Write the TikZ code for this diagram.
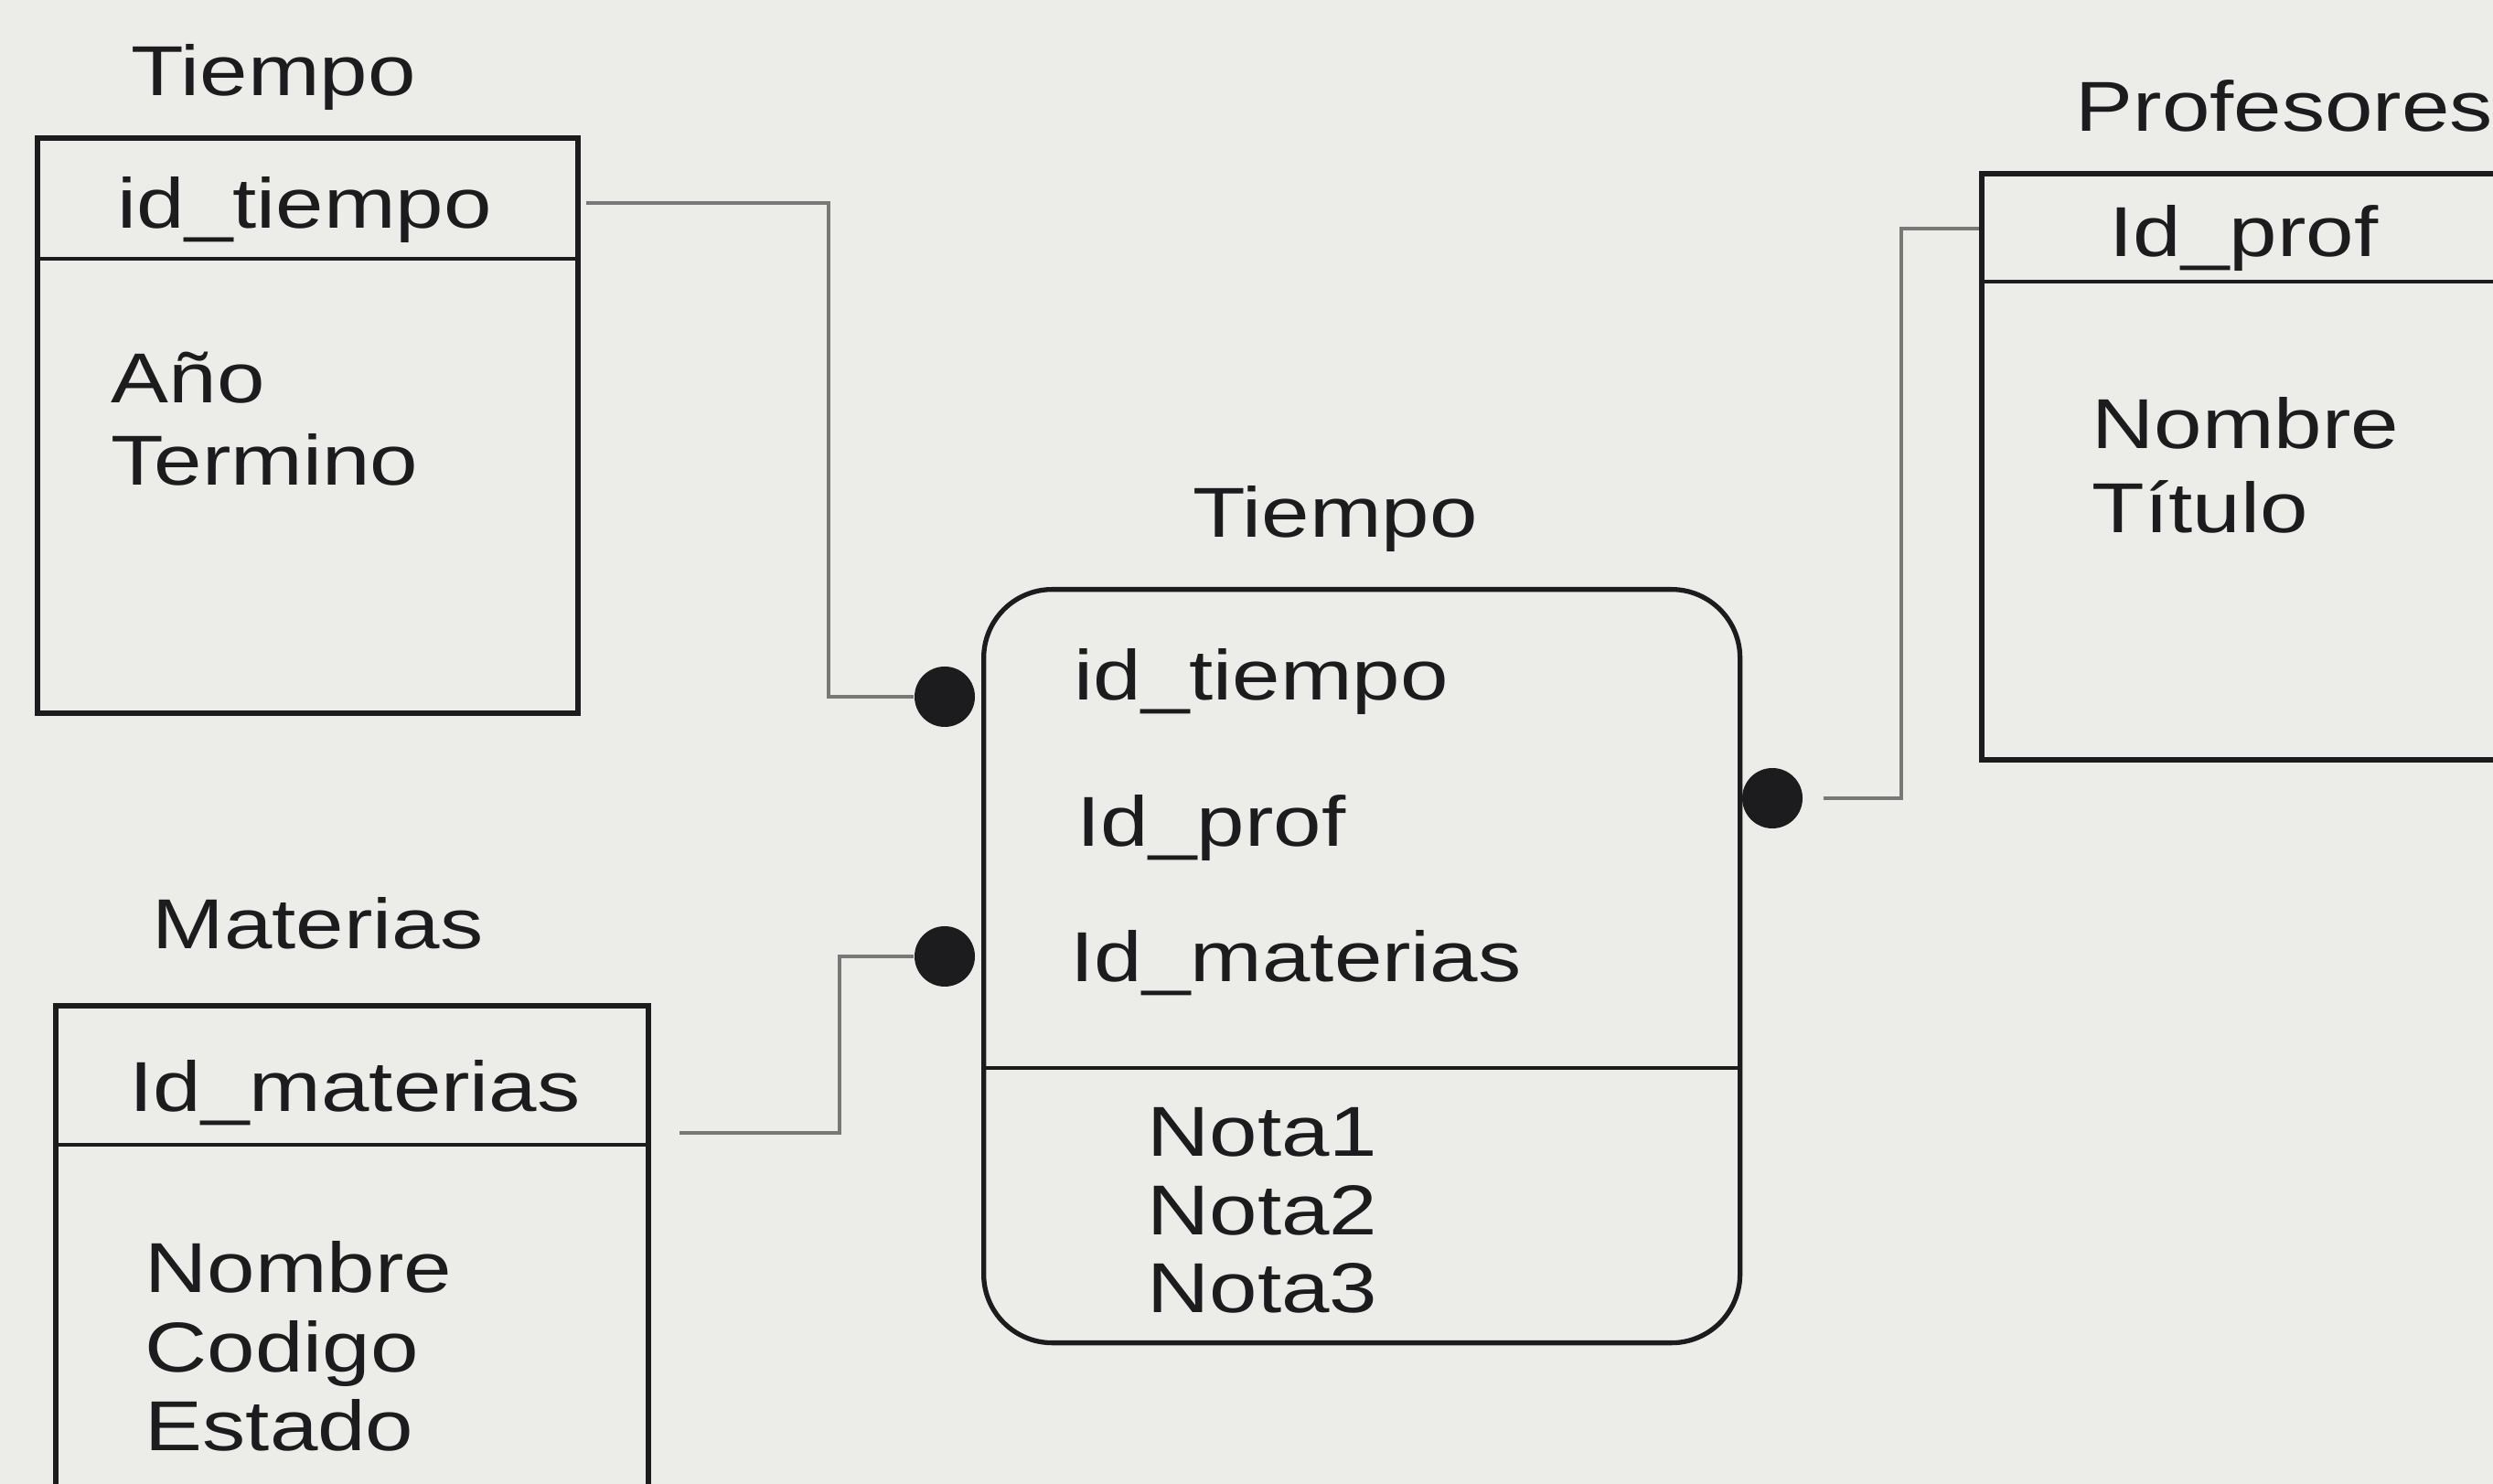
\documentclass[tikz,border=0pt]{standalone}
\usepackage{fontspec}
\setmainfont[FakeStretch=1.22]{Liberation Sans}
\definecolor{papel}{RGB}{236,236,233}
\definecolor{tinta}{RGB}{28,28,30}
\definecolor{linea}{RGB}{120,120,120}
\begin{document}
\begin{tikzpicture}[every node/.style={font=\fontsize{22}{26}\selectfont,text=tinta,inner sep=0pt,anchor=base west},
  tabla/.style={draw=tinta,line width=1.6pt,anchor=north west},
  hecho/.style={draw=tinta,line width=1.5pt,rounded corners=0.75cm,anchor=north west},
  division/.style={draw=tinta,line width=1.4pt},
  punto/.style={circle,fill=tinta,minimum size=0.66cm,anchor=center},
  conector/.style={draw=linea,line width=1.3pt}]
\useasboundingbox (0,0) rectangle (27.26,16.23);
\fill[papel] (0,0) rectangle (27.26,16.23);
\clip (0,0) rectangle (27.26,16.23);
\node (titTiempo) at (1.43,15.18) {Tiempo};
\node[tabla,minimum width=5.91cm,minimum height=6.29cm] (tTiempo) at (0.38,14.75) {};
\draw[division] ([yshift=-1.35cm]tTiempo.north west) -- ([yshift=-1.35cm]tTiempo.north east);
\node (kTiempo) at (1.28,13.73) {id\_tiempo};
\node (aAnio) at (1.21,11.82) {Año};
\node (aTermino) at (1.21,10.92) {Termino};
\node (titMaterias) at (1.66,5.85) {Materias};
\node[tabla,minimum width=6.48cm,minimum height=5.8cm] (tMaterias) at (0.58,5.26) {};
\draw[division] ([yshift=-1.55cm]tMaterias.north west) -- ([yshift=-1.55cm]tMaterias.north east);
\node (kMaterias) at (1.41,4.07) {Id\_materias};
\node (aNombreM) at (1.58,2.09) {Nombre};
\node (aCodigo) at (1.58,1.22) {Codigo};
\node (aEstado) at (1.58,0.36) {Estado};
\node (titProf) at (22.69,14.79) {Profesores};
\node[tabla,minimum width=6.0cm,minimum height=6.41cm] (tProf) at (21.64,14.36) {};
\draw[division] ([yshift=-1.21cm]tProf.north west) -- ([yshift=-1.21cm]tProf.north east);
\node (kProf) at (23.06,13.42) {Id\_prof};
\node (aNombreP) at (22.87,11.32) {Nombre};
\node (aTitulo) at (22.87,10.40) {Título};
\node (titHechos) at (13.04,10.35) {Tiempo};
\node[hecho,minimum width=8.27cm,minimum height=8.24cm] (hTiempo) at (10.73,9.81) {};
\draw[division] ([yshift=-5.26cm]hTiempo.north west) -- ([yshift=-5.26cm]hTiempo.north east);
\node (fTiempo) at (11.74,8.57) {id\_tiempo};
\node (fProf) at (11.77,6.97) {Id\_prof};
\node (fMaterias) at (11.70,5.49) {Id\_materias};
\node (nota1) at (12.54,3.58) {Nota1};
\node (nota2) at (12.54,2.72) {Nota2};
\node (nota3) at (12.54,1.87) {Nota3};
\node[punto] (d1) at (10.33,8.61) {};
\node[punto] (d2) at (10.33,5.77) {};
\node[punto] (d3) at (19.38,7.50) {};
\coordinate (s1) at (6.41,14.01);
\coordinate (e1) at (9.06,8.61);
\coordinate (s2) at (7.43,3.84);
\coordinate (e2) at (9.18,5.77);
\coordinate (e3) at (20.79,7.50);
\coordinate (s3) at (21.64,13.73);
\draw[conector] (s1) -| (e1) -- (d1);
\draw[conector] (s2) -| (e2) -- (d2);
\draw[conector,shorten <=0.22cm] (d3) -- (e3) |- (s3);
\end{tikzpicture}
\end{document}
